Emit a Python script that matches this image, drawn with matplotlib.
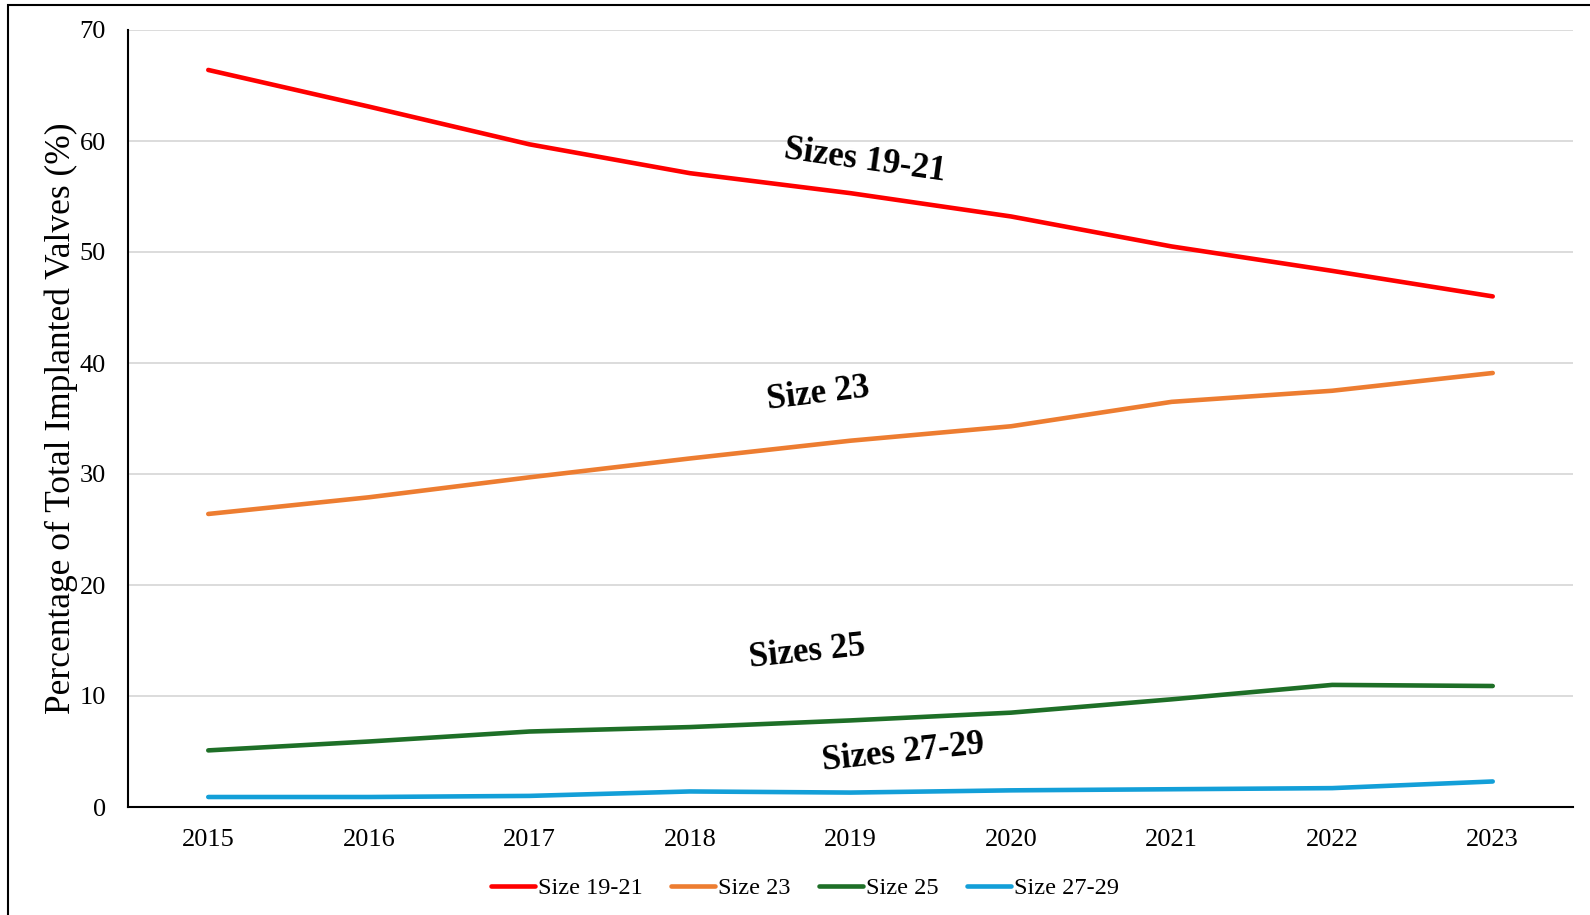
import matplotlib
matplotlib.use("Agg")
import matplotlib.pyplot as plt
from matplotlib.patches import Rectangle

years = ["2015", "2016", "2017", "2018", "2019", "2020", "2021", "2022", "2023"]
size_19_21 = [66.4, 63.1, 59.7, 57.1, 55.3, 53.2, 50.5, 48.3, 46.0]
size_23 = [26.4, 27.9, 29.7, 31.4, 33.0, 34.3, 36.5, 37.5, 39.1]
size_25 = [5.1, 5.9, 6.8, 7.2, 7.8, 8.5, 9.7, 11.0, 10.9]
size_27_29 = [0.9, 0.9, 1.0, 1.4, 1.3, 1.5, 1.6, 1.7, 2.3]
series_names = ["Size 19-21", "Size 23", "Size 25", "Size 27-29"]
colors = ["#ff0000", "#ed7d31", "#1e6f27", "#139fd8"]

plt.rcParams['font.family'] = ['Liberation Serif', 'DejaVu Serif']

fig = plt.figure(figsize=(15.9, 9.15), dpi=100)
ax = fig.add_axes([128/1590, 1-807/915, 1445/1590, 777/915])

x = list(range(len(years)))
for vals, name, c in zip([size_19_21, size_23, size_25, size_27_29], series_names, colors):
    ax.plot(x, vals, color=c, lw=3.3, label=name, solid_capstyle='round', solid_joinstyle='round')

ax.set_xlim(-0.5, len(years) - 0.5)
ax.set_ylim(0, 70)
ax.set_yticks(range(0, 71, 10))
ax.set_xticks(x)
ax.set_xticklabels(years)
ax.tick_params(axis='both', length=0, labelsize=19, colors='black')
ax.tick_params(axis='x', pad=16)
ax.tick_params(axis='y', pad=16)
ax.grid(axis='y', color='#d9d9d9', lw=1.3)
ax.set_axisbelow(True)
for s in ['top', 'right']:
    ax.spines[s].set_visible(False)
for s in ['left', 'bottom']:
    ax.spines[s].set_linewidth(1.5)
    ax.spines[s].set_color('black')

ax.set_ylabel("Percentage of Total Implanted Valves (%)", fontsize=25.5, labelpad=1)

ann = dict(fontsize=25, fontweight='bold', ha='center', va='center')
ax.text(4.09, 58.2, "Sizes 19-21", rotation=-8, **ann)
ax.text(3.80, 37.2, "Size 23", rotation=7, **ann)
ax.text(3.73, 13.9, "Sizes 25", rotation=6, **ann)
ax.text(4.33, 4.9, "Sizes 27-29", rotation=6, **ann)

leg = fig.legend(loc='center', bbox_to_anchor=(805/1590, 1-888/915), ncol=4, frameon=False,
                 fontsize=17.5, handlelength=1.8, handletextpad=0.15, columnspacing=1.15)

fig.patches.append(Rectangle((8/1590, -0.01), 1.0, 1-5/915+0.01, transform=fig.transFigure,
                             fill=False, edgecolor='black', lw=1.5))

fig.savefig("out.png", dpi=100)
